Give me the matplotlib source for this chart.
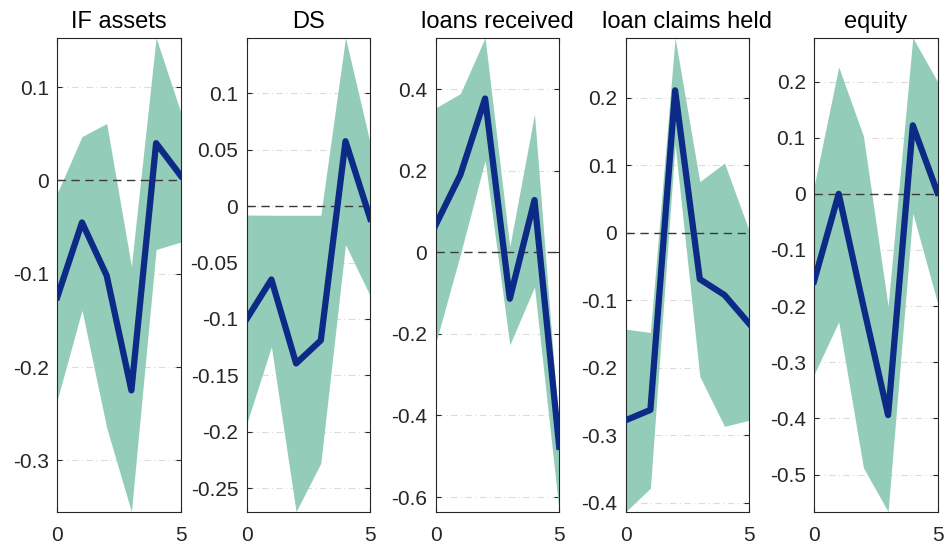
import numpy as np
import matplotlib
matplotlib.use('Agg')
import matplotlib.pyplot as plt

plt.rcParams['font.family'] = ['Liberation Sans', 'DejaVu Sans']
plt.rcParams['axes.unicode_minus'] = False

horizon = [0, 1, 2, 3, 4, 5]
titles = ['IF assets', 'DS', 'loans received', 'loan claims held', 'equity']

# median response and credible band, one list per panel
if_mid = [-0.125, -0.045, -0.102, -0.225, 0.040, 0.005]
if_hi = [-0.0135, 0.047, 0.061, -0.092, 0.153, 0.073]
if_lo = [-0.235, -0.139, -0.265, -0.355, -0.074, -0.066]

ds_mid = [-0.100, -0.065, -0.1395, -0.119, 0.0577, -0.011]
ds_hi = [-0.0078, -0.008, -0.008, -0.008, 0.1495, 0.056]
ds_lo = [-0.193, -0.1246, -0.271, -0.228, -0.034, -0.0795]

lr_mid = [0.067, 0.19, 0.377, -0.114, 0.128, -0.477]
lr_hi = [0.354, 0.389, 0.526, 0.014, 0.339, -0.44]
lr_lo = [-0.223, -0.005, 0.225, -0.227, -0.085, -0.636]

lc_mid = [-0.278, -0.2626, 0.2106, -0.069, -0.0925, -0.135]
lc_hi = [-0.143, -0.148, 0.2886, 0.0754, 0.103, 0.0026]
lc_lo = [-0.4134, -0.3786, 0.13, -0.213, -0.287, -0.278]

eq_mid = [-0.156, 0.0, -0.2, -0.394, 0.122, 0.002]
eq_hi = [0.0125, 0.226, 0.103, -0.2, 0.278, 0.2]
eq_lo = [-0.322, -0.228, -0.4875, -0.566, -0.0344, -0.194]

yticks = [
    [-0.3, -0.2, -0.1, 0, 0.1],
    [-0.25, -0.2, -0.15, -0.1, -0.05, 0, 0.05, 0.1],
    [-0.6, -0.4, -0.2, 0, 0.2, 0.4],
    [-0.4, -0.3, -0.2, -0.1, 0, 0.1, 0.2],
    [-0.5, -0.4, -0.3, -0.2, -0.1, 0, 0.1, 0.2],
]

panels = [(if_mid, if_hi, if_lo), (ds_mid, ds_hi, ds_lo), (lr_mid, lr_hi, lr_lo),
          (lc_mid, lc_hi, lc_lo), (eq_mid, eq_hi, eq_lo)]

band_col = '#93cdb9'
line_col = '#0c2a86'
dark = '#262626'

fig = plt.figure(figsize=(9.47, 5.51), dpi=100)
lefts = [57.3, 246.7, 435.7, 625.7, 814.0]
w = 123.5 / 947
bottom = 1 - 511.7 / 551
h = (511.7 - 37.7) / 551

for i, (mid, hi, lo) in enumerate(panels):
    ax = fig.add_axes([lefts[i] / 947, bottom, w, h])
    ax.fill_between(horizon, lo, hi, color=band_col, linewidth=0, zorder=2)
    ax.axhline(0, color='#3a3a3a', lw=1.0, ls=(0, (6, 4)), zorder=3)
    ax.plot(horizon, mid, color=line_col, lw=4.5, zorder=4, solid_joinstyle='round')
    ax.set_xlim(0, 5)
    ax.set_ylim(min(lo), max(hi))
    ax.set_xticks([0, 5])
    ax.set_yticks(yticks[i])
    ax.set_yticklabels(['%g' % t for t in yticks[i]])
    ax.yaxis.grid(True, ls=(0, (6, 3, 1, 3)), color='#dcdcdc', lw=0.8, zorder=0)
    ax.set_axisbelow(True)
    ax.tick_params(axis='both', direction='in', length=3.5, width=0.8, color=dark,
                   labelcolor=dark, labelsize=15, right=True, top=True)
    ax.tick_params(axis='x', pad=10)
    ax.tick_params(axis='y', pad=6)
    for s in ax.spines.values():
        s.set_color(dark)
        s.set_linewidth(0.8)
    ax.set_title(titles[i], fontsize=17, color='black', pad=7)

fig.savefig('out.png', dpi=100)
